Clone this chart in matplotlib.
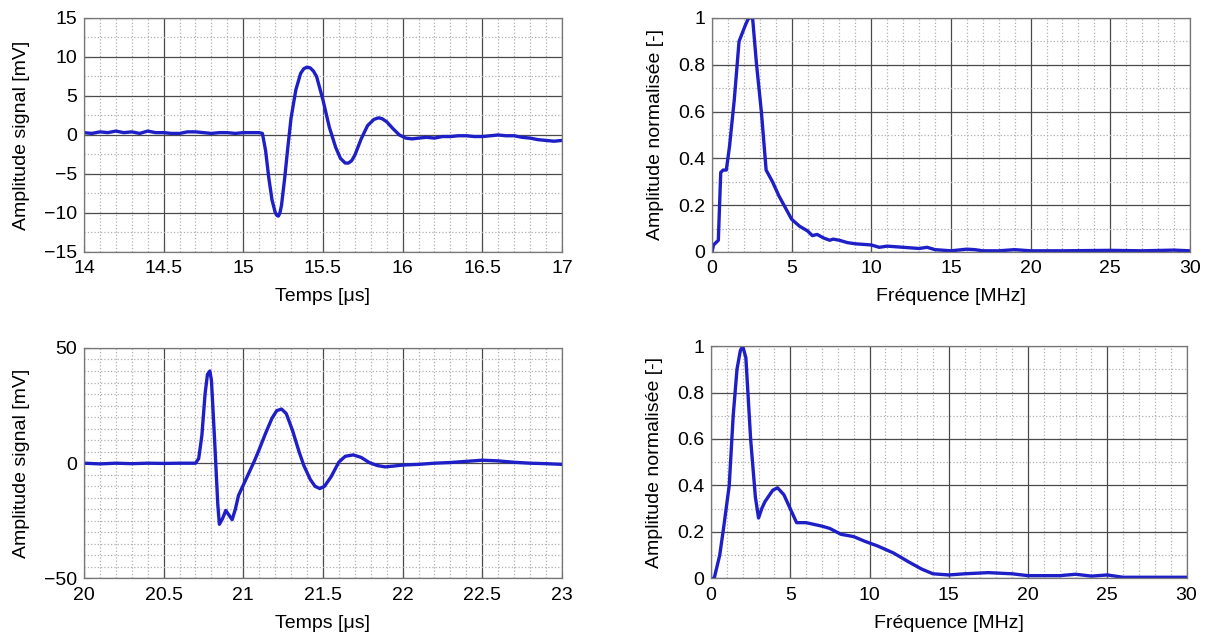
import matplotlib
matplotlib.use('Agg')
import matplotlib.pyplot as plt
from matplotlib.ticker import MultipleLocator, FuncFormatter

plt.rcParams['font.family'] = ['Liberation Sans', 'DejaVu Sans']

# signal 1 (time in us, amplitude in mV)
t1 = [14.0, 14.05, 14.1, 14.15, 14.2, 14.25, 14.3, 14.35, 14.4, 14.45, 14.5, 14.55, 14.6, 14.65,
      14.7, 14.75, 14.8, 14.85, 14.9, 14.95, 15.0, 15.05, 15.1, 15.12, 15.14, 15.16, 15.18, 15.2,
      15.21, 15.22, 15.23, 15.24, 15.26, 15.28, 15.3, 15.33, 15.36, 15.38, 15.4, 15.42, 15.44,
      15.46, 15.5, 15.54, 15.58, 15.61, 15.64, 15.66, 15.68, 15.7, 15.74, 15.78, 15.82, 15.85,
      15.87, 15.9, 15.94, 15.98, 16.02, 16.06, 16.1, 16.15, 16.2, 16.25, 16.3, 16.35, 16.4,
      16.45, 16.5, 16.55, 16.6, 16.65, 16.7, 16.75, 16.8, 16.85, 16.9, 16.95, 17.0]
a1 = [0.3, 0.2, 0.4, 0.3, 0.5, 0.3, 0.4, 0.2, 0.5, 0.3, 0.3, 0.2, 0.2, 0.4,
      0.4, 0.3, 0.2, 0.3, 0.3, 0.2, 0.3, 0.3, 0.3, 0.2, -2.0, -5.5, -8.3, -9.9,
      -10.3, -10.4, -10.0, -9.0, -5.5, -1.5, 2.2, 5.8, 7.9, 8.5, 8.7, 8.6, 8.2,
      7.5, 4.5, 1.0, -1.6, -3.0, -3.6, -3.6, -3.3, -2.6, -0.5, 1.2, 2.0, 2.2,
      2.1, 1.7, 0.8, 0.0, -0.4, -0.5, -0.4, -0.3, -0.4, -0.2, -0.2, -0.1, -0.1,
      -0.2, -0.2, -0.1, 0.0, -0.1, -0.1, -0.3, -0.4, -0.6, -0.7, -0.8, -0.7]

# spectrum 1 (MHz, normalised)
f1 = [0.0, 0.1, 0.4, 0.55, 0.7, 0.9, 1.1, 1.4, 1.7, 2.1, 2.3, 2.55, 2.8, 3.1, 3.4, 3.8, 4.2,
      4.6, 5.0, 5.5, 6.0, 6.3, 6.6, 7.0, 7.4, 7.6, 8.0, 8.5, 9.0, 10.0, 10.5, 11.0, 12.0, 13.0,
      13.5, 14.0, 15.0, 16.0, 16.5, 17.0, 18.0, 19.0, 20.0, 22.0, 25.0, 27.0, 29.0, 30.0]
s1 = [0.0, 0.03, 0.05, 0.34, 0.35, 0.35, 0.45, 0.65, 0.9, 0.97, 1.0, 1.0, 0.8, 0.6, 0.35, 0.3, 0.24,
      0.19, 0.14, 0.11, 0.09, 0.07, 0.075, 0.06, 0.05, 0.055, 0.05, 0.04, 0.035, 0.03, 0.02, 0.025, 0.02, 0.015,
      0.02, 0.01, 0.005, 0.012, 0.01, 0.005, 0.005, 0.01, 0.005, 0.005, 0.007, 0.005, 0.008, 0.005]

# signal 2
t2 = [20.0, 20.1, 20.2, 20.3, 20.4, 20.5, 20.6, 20.7, 20.72, 20.74, 20.76, 20.775, 20.79, 20.8,
      20.82, 20.84, 20.85, 20.87, 20.89, 20.91, 20.93, 20.95, 20.97, 20.99, 21.03, 21.07, 21.1,
      21.14, 21.18, 21.21, 21.24, 21.27, 21.31, 21.35, 21.38, 21.42, 21.45, 21.48, 21.51, 21.55,
      21.6, 21.64, 21.69, 21.74, 21.79, 21.84, 21.89, 21.95, 22.0, 22.1, 22.2, 22.3, 22.4, 22.5,
      22.6, 22.7, 22.8, 22.9, 23.0]
a2 = [0.0, -0.3, 0.0, -0.2, 0.0, -0.1, 0.0, 0.0, 2.0, 12.0, 30.0, 38.5, 40.0, 36.0,
      10.0, -18.0, -26.5, -24.0, -20.5, -22.5, -24.5, -20.0, -14.0, -11.0, -5.0, 1.0, 6.0,
      13.0, 19.5, 22.8, 23.5, 21.5, 14.0, 5.0, -1.0, -7.0, -10.0, -11.0, -10.0, -6.0,
      0.5, 3.0, 3.6, 2.5, 0.3, -1.0, -1.6, -1.2, -0.8, -0.5, 0.0, 0.3, 0.8, 1.3,
      1.0, 0.4, 0.0, -0.2, -0.5]

# spectrum 2
f2 = [0.0, 0.2, 0.55, 0.8, 1.15, 1.4, 1.64, 1.85, 2.0, 2.2, 2.5, 2.8, 3.0, 3.2, 3.4, 3.9, 4.2,
      4.6, 5.0, 5.4, 6.0, 7.0, 7.5, 8.2, 9.0, 9.7, 10.5, 11.5, 12.5, 13.3, 14.0, 15.0, 16.0,
      17.5, 19.0, 20.0, 22.0, 23.0, 24.0, 25.0, 26.0, 30.0]
s2 = [0.0, 0.0, 0.1, 0.22, 0.4, 0.7, 0.9, 0.98, 1.0, 0.95, 0.6, 0.35, 0.26, 0.3, 0.33, 0.38, 0.39,
      0.36, 0.3, 0.24, 0.24, 0.225, 0.215, 0.19, 0.18, 0.16, 0.14, 0.11, 0.07, 0.04, 0.02, 0.015, 0.02,
      0.025, 0.02, 0.012, 0.012, 0.018, 0.01, 0.015, 0.005, 0.005]

blue = '#1f1fc8'
fs = 14

fig = plt.figure(figsize=(12.1, 6.42), dpi=100)
fig.patch.set_facecolor('white')

def setup(ax, xmaj, xmin, ymaj, ymin, xlim, ylim, xlabel, ylabel):
    ax.set_xlim(xlim)
    ax.set_ylim(ylim)
    ax.xaxis.set_major_locator(MultipleLocator(xmaj))
    ax.xaxis.set_minor_locator(MultipleLocator(xmin))
    ax.yaxis.set_major_locator(MultipleLocator(ymaj))
    ax.yaxis.set_minor_locator(MultipleLocator(ymin))
    fmt = FuncFormatter(lambda v, p: ('%g' % round(v, 3)).replace('-', '\u2212'))
    ax.xaxis.set_major_formatter(fmt)
    ax.yaxis.set_major_formatter(fmt)
    ax.grid(which='major', color='#4a4a4a', linestyle='-', linewidth=0.9)
    ax.grid(which='minor', color='#b0b0b0', linestyle=':', linewidth=0.9)
    ax.set_axisbelow(True)
    ax.tick_params(which='both', direction='in', labelsize=fs, length=4, color='#555555')
    ax.tick_params(axis='x', pad=6)
    ax.tick_params(axis='y', pad=5)
    ax.tick_params(which='minor', length=0)
    for s in ax.spines.values():
        s.set_color('#777777')
        s.set_linewidth(0.9)
    ax.set_xlabel(xlabel, fontsize=fs, labelpad=8)
    ax.set_ylabel(ylabel, fontsize=fs, labelpad=10)

ax1 = fig.add_axes([0.0694, 0.6075, 0.3950, 0.3645])
ax1.plot(t1, a1, color=blue, linewidth=2.4)
setup(ax1, 0.5, 0.1, 5, 2.5, (14, 17), (-15, 15), 'Temps [μs]', 'Amplitude signal [mV]')

ax2 = fig.add_axes([0.5884, 0.6075, 0.3950, 0.3645])
ax2.plot(f1, s1, color=blue, linewidth=2.4)
setup(ax2, 5, 1, 0.2, 0.1, (0, 30), (0, 1), 'Fréquence [MHz]', 'Amplitude normalisée [-]')

ax3 = fig.add_axes([0.0694, 0.0990, 0.3950, 0.3590])
ax3.plot(t2, a2, color=blue, linewidth=2.4)
setup(ax3, 0.5, 0.1, 50, 5, (20, 23), (-50, 50), 'Temps [μs]', 'Amplitude signal [mV]')

ax4 = fig.add_axes([0.5876, 0.0990, 0.3930, 0.3620])
ax4.plot(f2, s2, color=blue, linewidth=2.4)
setup(ax4, 5, 1, 0.2, 0.1, (0, 30), (0, 1), 'Fréquence [MHz]', 'Amplitude normalisée [-]')

fig.savefig('out.png', dpi=100, facecolor='white')
